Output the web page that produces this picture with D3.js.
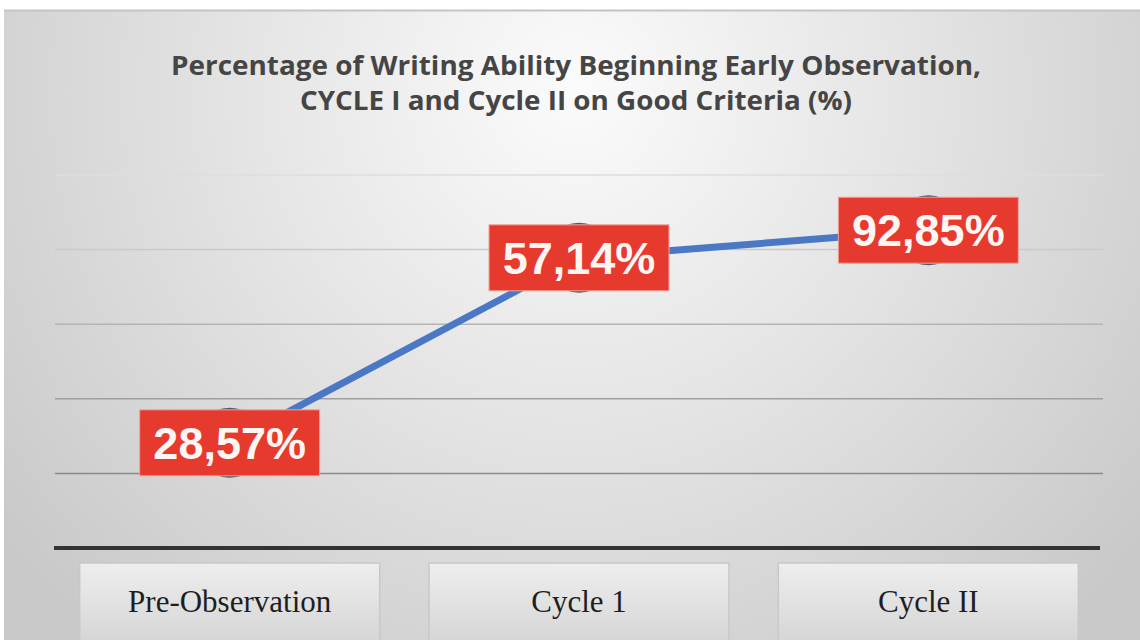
<!DOCTYPE html>
<html>
<head>
<meta charset="utf-8">
<script src="https://cdn.jsdelivr.net/npm/d3@7"></script>
<style>
  body { margin: 0; background: #fff; }
</style>
</head>
<body>
<div id="chart"></div>
<script>
// data
const categories = ["Pre-Observation", "Cycle 1", "Cycle II"];
const plotted = [28.2, 77.8, 85.2]; // where the points sit on the 0-100 grid
const labels = ["28,57%", "57,14%", "92,85%"];
const gridTicks = [20, 40, 60, 80, 100];
const titleLines = [
  "Percentage of Writing Ability Beginning Early Observation,",
  "CYCLE I and Cycle II on Good Criteria (%)"
];

const W = 1140, H = 640;
const plot = { left: 55, right: 1103, top: 175, bottom: 548 };

const svg = d3
  .select("#chart")
  .append("svg")
  .attr("width", W)
  .attr("height", H);

const defs = svg.append("defs");
const bg = defs
  .append("radialGradient")
  .attr("id", "bg")
  .attr("gradientUnits", "userSpaceOnUse")
  .attr("cx", 575)
  .attr("cy", 90)
  .attr("r", 720);
bg.append("stop").attr("offset", "0").attr("stop-color", "#fbfbfb");
bg.append("stop").attr("offset", "0.45").attr("stop-color", "#e5e5e5");
bg.append("stop").attr("offset", "1").attr("stop-color", "#c9c9c9");

const boxGrad = defs
  .append("linearGradient")
  .attr("id", "boxg")
  .attr("x1", 0).attr("y1", 0).attr("x2", 0).attr("y2", 1);
boxGrad.append("stop").attr("offset", "0").attr("stop-color", "#eeeeee");
boxGrad.append("stop").attr("offset", "1").attr("stop-color", "#d2d2d2");

// panel
svg
  .append("rect")
  .attr("x", 4)
  .attr("y", 10)
  .attr("width", W - 4)
  .attr("height", H - 10)
  .attr("fill", "url(#bg)");
svg
  .append("line")
  .attr("x1", 4).attr("x2", W)
  .attr("y1", 10.5).attr("y2", 10.5)
  .attr("stroke", "#c4c4c4")
  .attr("stroke-width", 2);

// title (condensed look, like Calibri)
svg
  .selectAll(".title")
  .data(titleLines)
  .join("text")
  .attr("class", "title")
  .attr("x", 576)
  .attr("y", (d, i) => 75 + i * 35)
  .attr("text-anchor", "middle")
  .attr("textLength", (d, i) => (i === 0 ? 810 : 552))
  .attr("lengthAdjust", "spacingAndGlyphs")
  .style("font-family", "'Open Sans', 'DejaVu Sans', sans-serif")
  .style("font-weight", "bold")
  .style("font-size", "27px")
  .style("fill", "#454545")
  .text((d) => d);

// scales
const x = d3.scaleBand().domain(categories).range([plot.left, plot.right]);
const cx = (c) => x(c) + x.bandwidth() / 2;
const y = d3.scaleLinear().domain([0, 100]).range([plot.bottom, plot.top]);
const gridColor = d3.scaleLinear().domain([20, 100]).range(["#8a8a8a", "#dedede"]);

// gridlines
svg
  .selectAll(".grid")
  .data(gridTicks)
  .join("line")
  .attr("class", "grid")
  .attr("x1", plot.left)
  .attr("x2", plot.right)
  .attr("y1", (d) => y(d))
  .attr("y2", (d) => y(d))
  .attr("stroke", (d) => gridColor(d))
  .attr("stroke-width", 1.5);

// x axis line
svg
  .append("line")
  .attr("x1", plot.left - 1)
  .attr("x2", plot.right - 3)
  .attr("y1", y(0))
  .attr("y2", y(0))
  .attr("stroke", "#333")
  .attr("stroke-width", 4);

// category boxes
const cat = svg
  .selectAll(".cat")
  .data(categories)
  .join("g")
  .attr("class", "cat")
  .attr("transform", (d) => `translate(${cx(d)},${y(0) + 15})`);
cat
  .append("rect")
  .attr("x", -150)
  .attr("y", 0)
  .attr("width", 300)
  .attr("height", 90)
  .attr("fill", "url(#boxg)")
  .attr("stroke", "#c8c8c8")
  .attr("stroke-width", 1.5);
cat
  .append("text")
  .attr("y", 49)
  .attr("text-anchor", "middle")
  .style("font-family", "'Liberation Serif', 'DejaVu Serif', serif")
  .style("font-size", "31px")
  .style("fill", "#1e1e1e")
  .text((d) => d);

// line
const pts = categories.map((c, i) => [cx(c), y(plotted[i])]);
svg
  .append("path")
  .attr("d", d3.line()(pts))
  .attr("fill", "none")
  .attr("stroke", "#4a78c4")
  .attr("stroke-width", 7)
  .attr("stroke-linejoin", "round");

// markers
svg
  .selectAll(".marker")
  .data(pts)
  .join("circle")
  .attr("class", "marker")
  .attr("cx", (d) => d[0])
  .attr("cy", (d) => d[1])
  .attr("r", 34)
  .attr("fill", "#6d7f9c")
  .attr("stroke", "#4b5a72")
  .attr("stroke-width", 2);

// data labels
const lab = svg
  .selectAll(".lab")
  .data(pts)
  .join("g")
  .attr("class", "lab")
  .attr("transform", (d) => `translate(${d[0]},${d[1]})`);
lab
  .append("rect")
  .attr("x", -90)
  .attr("y", -33)
  .attr("width", 180)
  .attr("height", 66)
  .attr("fill", "#e63a2e")
  .attr("stroke", "#f0a49c")
  .attr("stroke-width", 1);
lab
  .append("text")
  .attr("y", 16)
  .attr("text-anchor", "middle")
  .style("font-family", "'Liberation Sans', Arial, sans-serif")
  .style("font-weight", "bold")
  .style("font-size", "45px")
  .style("fill", "#fff6f4")
  .text((d, i) => labels[i]);
</script>
</body>
</html>
